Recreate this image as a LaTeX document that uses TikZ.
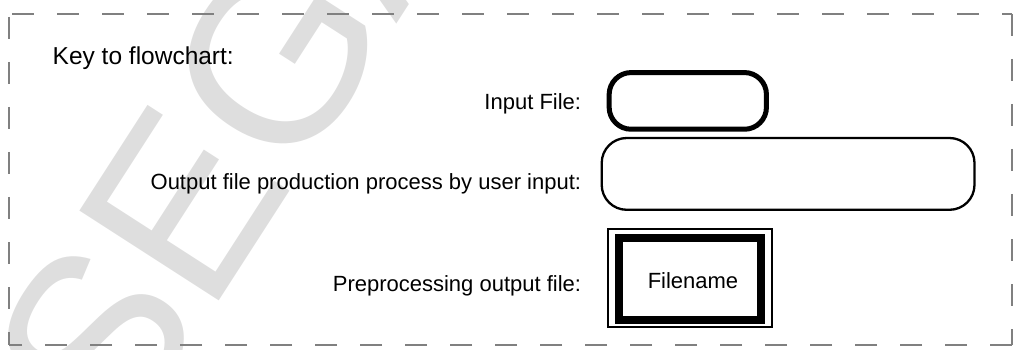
\documentclass[tikz,border=0pt]{standalone}
\usepackage{fontspec}
\setmainfont{Liberation Sans}
\definecolor{framegray}{RGB}{128,128,128}
\definecolor{markgray}{RGB}{222,222,222}
\begin{document}
\begin{tikzpicture}[x=1pt,y=-1pt,
  keyframe/.style={draw=framegray, line width=2pt, dash pattern=on 22pt off 23pt},
  lbl/.style={font=\fontsize{22}{26}\selectfont, inner sep=0pt, anchor=base east},
  infile/.style={draw, line width=5pt, rounded corners=22pt,
    minimum width=157.3pt, minimum height=56.7pt, inner sep=0pt},
  procbox/.style={draw, line width=2.3pt, rounded corners=25pt,
    minimum width=372.8pt, minimum height=71.8pt, inner sep=0pt},
  preouter/.style={draw, line width=2pt,
    minimum width=163.4pt, minimum height=98.6pt, inner sep=0pt},
  preinner/.style={draw, line width=8.3pt, font=\fontsize{22}{26}\selectfont,
    minimum width=142.5pt, minimum height=82pt, inner sep=0pt,
    text height=19.8pt, text depth=0pt}]
\useasboundingbox (0,0) rectangle (1013,350);
\clip (0,0) rectangle (1013,350);

% background watermark
\node[text=markgray, font=\fontsize{241}{241}\selectfont, rotate=57.2,
  anchor=base west, inner sep=0pt, outer sep=0pt] (mark) at (121.1,452.5) {SEGA};

% dashed frame round the key
\coordinate (tl) at (9,14);
\coordinate (tr) at (1012,14);
\coordinate (br) at (1012,345);
\coordinate (bl) at (9,345);
\draw[keyframe, dash phase=42pt] (tl) -- (tr);
\draw[keyframe, dash phase=42pt] (tl) -- (bl);
\draw[keyframe] (tr) -- (br);
\draw[keyframe] (br) -- (bl);

% title and labels
\node[font=\fontsize{24.5}{29}\selectfont, inner sep=0pt, anchor=base west]
  (key) at (52.5,65) {Key to flowchart:};
\node[lbl] (inlbl) at (581.3,110) {Input File:};
\node[lbl] (proclbl) at (581.3,190) {Output file production process by user input:};
\node[lbl] (prelbl) at (581.3,291) {Preprocessing output file:};

% symbols
\node[infile] (inbox) at (687.8,100.9) {};
\node[procbox] (proc) at (788.1,173.9) {};
\node[preouter] (preframe) at (690,278) {};
\node[preinner] (pre) at (690,279) {\kern6pt Filename};
\end{tikzpicture}
\end{document}
